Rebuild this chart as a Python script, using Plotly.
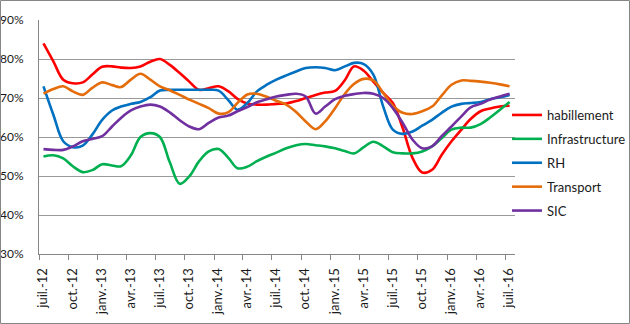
import plotly.graph_objects as go
import pandas as pd

# Monthly observations, July 2012 to July 2016 (values in %)
months = pd.date_range("2012-07-01", periods=49, freq="MS") + pd.Timedelta(days=14)

habillement = [84.0, 79.4, 74.7, 73.8, 74.0, 76.0, 78.0, 78.1, 77.8, 77.7, 78.1, 79.3,
               80.0, 78.5, 76.4, 74.2, 72.1, 72.5, 73.0, 71.7, 69.8, 68.6, 68.3, 68.3,
               68.5, 68.6, 69.2, 70.0, 70.8, 71.4, 71.8, 74.6, 78.1, 77.0, 74.2, 71.3,
               68.7, 62.3, 54.6, 50.9, 51.6, 55.4, 58.9, 61.9, 64.6, 66.6, 67.3, 67.8,
               68.0]
infrastructure = [55.0, 55.3, 54.5, 52.5, 51.0, 51.5, 53.0, 52.7, 52.5, 55.3, 60.0, 61.0,
                  60.0, 53.5, 48.0, 49.9, 53.8, 56.3, 56.9, 54.6, 52.0, 52.4, 53.8, 55.0,
                  56.0, 57.1, 57.9, 58.2, 57.9, 57.6, 57.1, 56.4, 55.8, 57.4, 58.8, 57.6,
                  56.1, 55.8, 55.8, 56.3, 57.6, 59.7, 61.9, 62.4, 62.4, 63.3, 65.0, 67.0,
                  69.0]
rh = [73.0, 65.7, 58.9, 57.4, 57.8, 60.6, 64.4, 66.8, 67.8, 68.5, 69.0, 70.2,
      71.9, 72.1, 72.1, 72.1, 72.1, 72.1, 71.9, 69.4, 67.0, 68.7, 71.7, 73.4,
      74.7, 75.8, 76.8, 77.7, 77.9, 77.7, 77.1, 78.1, 79.0, 78.7, 76.0, 67.8,
      61.9, 60.8, 61.4, 62.9, 64.4, 66.2, 67.8, 68.5, 68.7, 69.0, 69.7, 70.2,
      70.8]
transport = [71.1, 72.3, 73.0, 71.7, 70.8, 72.6, 74.0, 73.3, 72.8, 74.7, 76.2, 74.7,
             73.0, 72.0, 70.8, 69.6, 68.5, 67.4, 66.0, 66.4, 68.7, 70.9, 71.1, 70.3,
             69.3, 68.3, 66.4, 64.0, 62.0, 64.0, 67.4, 71.1, 73.6, 74.9, 74.5, 71.3,
             68.0, 66.2, 65.9, 66.6, 67.8, 70.6, 73.4, 74.5, 74.4, 74.2, 73.9, 73.5,
             73.0]
sic = [56.9, 56.7, 56.7, 57.6, 58.9, 59.5, 60.2, 62.7, 64.9, 66.8, 67.8, 68.3,
       67.8, 66.3, 64.3, 62.7, 62.0, 63.6, 65.0, 65.5, 66.6, 67.7, 68.9, 69.7,
       70.4, 70.8, 71.1, 70.4, 66.0, 67.8, 69.7, 70.6, 71.0, 71.3, 71.1, 70.0,
       67.4, 63.6, 59.3, 57.1, 57.6, 60.2, 62.7, 65.3, 67.6, 68.5, 69.6, 70.4,
       71.1]

series_names = ["habillement", "Infrastructure", "RH", "Transport", "SIC"]
series_values = [habillement, infrastructure, rh, transport, sic]
series_colors = ["#FF0000", "#00B050", "#0070C0", "#E46C0A", "#7030A0"]

tick_dates = pd.date_range("2012-07-01", "2016-07-01", freq="3MS")
tick_labels = ["juil.-12", "oct.-12", "janv.-13", "avr.-13",
               "juil.-13", "oct.-13", "janv.-14", "avr.-14",
               "juil.-14", "oct.-14", "janv.-15", "avr.-15",
               "juil.-15", "oct.-15", "janv.-16", "avr.-16",
               "juil.-16"]

FONT = "Lato"
fig = go.Figure()
for name, vals, col in zip(series_names, series_values, series_colors):
    fig.add_trace(go.Scatter(
        x=months, y=vals, name=name, mode="lines",
        line=dict(color=col, width=2.6, shape="spline", smoothing=1.0),
        legendgroup=name,
    ))

L, R, T, B = 39, 115, 20, 70
W, H = 630, 324
pw, ph = W - L - R, H - T - B

fig.update_layout(
    width=W, height=H,
    margin=dict(l=L, r=R, t=T, b=B, autoexpand=False),
    paper_bgcolor="white", plot_bgcolor="white",
    font=dict(family=FONT, size=13, color="#1a1a1a"),
    showlegend=True,
    legend=dict(x=(507 - L) / pw, xanchor="left",
                y=(H - B - 163) / ph, yanchor="middle",
                font=dict(family=FONT, size=13, color="#1a1a1a"),
                itemwidth=30, tracegroupgap=4, bgcolor="rgba(0,0,0,0)"),
    xaxis=dict(
        type="date", range=["2012-07-01", "2016-08-01"],
        tickvals=tick_dates, ticktext=tick_labels, tickangle=-90,
        ticks="outside", ticklen=5, tickcolor="#868686",
        showline=True, linecolor="#868686", linewidth=1,
        showgrid=False, zeroline=False,
        ticklabelstandoff=3, ticklabelshift=4,
        tickfont=dict(family=FONT, size=13, color="#1a1a1a"),
    ),
    yaxis=dict(
        range=[30, 90], dtick=10, tick0=30, ticksuffix="%",
        showline=True, linecolor="#868686", linewidth=1,
        showgrid=True, gridcolor="#999999", gridwidth=1, zeroline=False,
        ticks="", ticklabelstandoff=12,
        tickfont=dict(family=FONT, size=12, color="#1a1a1a"),
    ),
)

# chart-area border around the whole figure
fig.add_shape(type="rect", xref="paper", yref="paper",
              x0=(0.5 - L) / pw, x1=(W - 0.5 - L) / pw,
              y0=(H - B - (H - 0.5)) / ph, y1=(H - B - 0.5) / ph,
              line=dict(color="#868686", width=1), layer="above")

fig.write_html("out.html")
